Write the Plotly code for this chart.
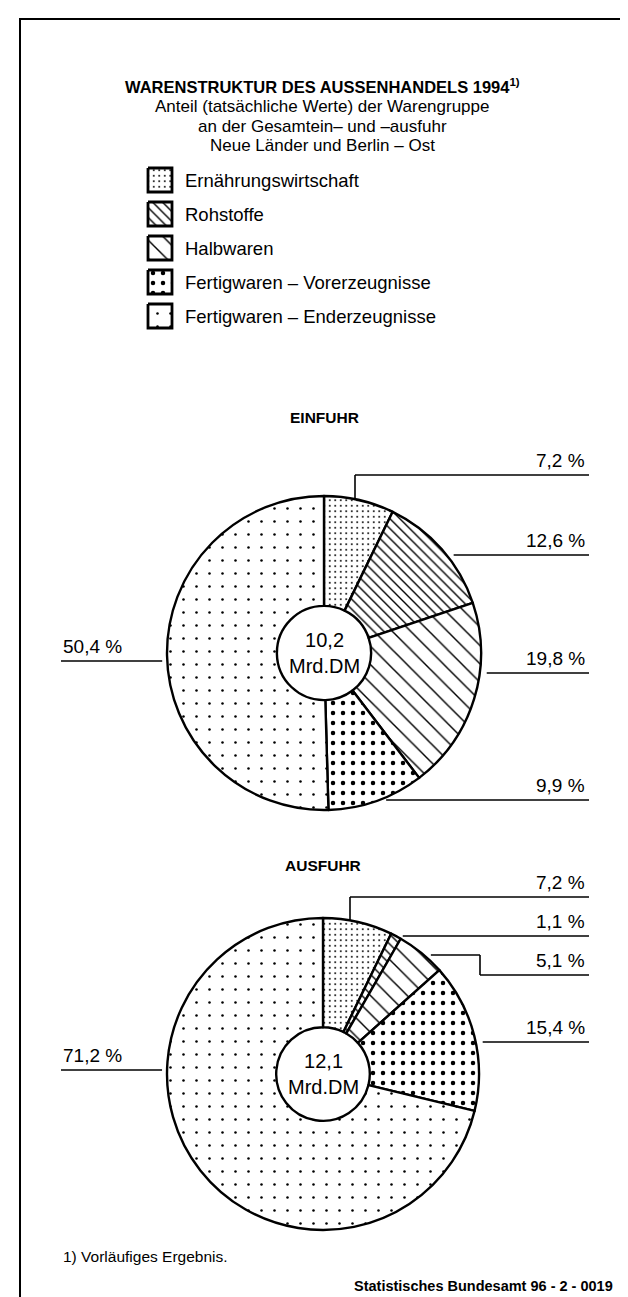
import math
import plotly.graph_objects as go

# ---------------- data ----------------
categories = ["Ernährungswirtschaft", "Rohstoffe", "Halbwaren",
              "Fertigwaren – Vorerzeugnisse", "Fertigwaren – Enderzeugnisse"]
einfuhr_values = [7.2, 12.6, 19.8, 9.9, 50.4]
ausfuhr_values = [7.2, 1.1, 5.1, 15.4, 71.2]
einfuhr_total = "10,2"
ausfuhr_total = "12,1"
unit = "Mrd.DM"

# ---------------- layout / style ----------------
W, H = 628, 1297
FONT = "Liberation Sans, Arial, Helvetica, sans-serif"
pat_shape = [".", "\\", "\\", ".", "."]
pat_size = [5.5, 7, 13, 10, 13]
pat_solid = [0.1, 0.2, 0.11, 0.16, 0.03]

pies = [
    dict(values=einfuhr_values, total=einfuhr_total, title="EINFUHR", title_y=409,
         cx=316, cy=645, r=157,
         right=[dict(i=0, y=467, kind="elbow", x=347), dict(i=1, y=547), dict(i=2, y=665), dict(i=3, y=792)],
         left=dict(i=4, y=653)),
    dict(values=ausfuhr_values, total=ausfuhr_total, title="AUSFUHR", title_y=857,
         cx=315, cy=1066, r=156,
         right=[dict(i=0, y=889, kind="elbow", x=342), dict(i=1, y=928), dict(i=2, y=947, kind="step", x=472, y2=967),
                dict(i=3, y=1034)],
         left=dict(i=4, y=1062)),
]
LINE_END = 581
LABEL_RIGHT = 579
LEFT_X = 53
GAP = 7

def fmt(v):
    return f"{v:.1f}".replace(".", ",") + " %"

fig = go.Figure()
shapes = []
annotations = []

def ann(x, y, text, size=16, bold=False, xanchor="center", yanchor="middle", align="center"):
    if bold:
        text = "<b>" + text + "</b>"
    annotations.append(dict(x=x, y=y, xref="x", yref="y", text=text, showarrow=False,
                            xanchor=xanchor, yanchor=yanchor, align=align,
                            font=dict(family=FONT, size=size, color="black")))

def line(x0, y0, x1, y1, w=1.6):
    shapes.append(dict(type="line", x0=x0, y0=y0, x1=x1, y1=y1, xref="x", yref="y",
                       line=dict(color="black", width=w), layer="above"))

# overlay axis in pixel coordinates (for legend swatches, lines, texts)
fig.update_layout(
    xaxis=dict(domain=[0, 1], range=[0, W], visible=False, fixedrange=True),
    yaxis=dict(domain=[0, 1], range=[H, 0], visible=False, fixedrange=True),
)

# ---------------- pies ----------------
for p in pies:
    cx, cy, r = p["cx"], p["cy"], p["r"]
    fig.add_trace(go.Pie(
        values=p["values"], labels=categories, sort=False, direction="clockwise", rotation=0,
        hole=0.30, textinfo="none", hoverinfo="label+value", showlegend=False,
        domain=dict(x=[(cx - r) / W, (cx + r) / W], y=[1 - (cy + r) / H, 1 - (cy - r) / H]),
        marker=dict(colors=["white"] * 5, line=dict(color="black", width=2.4),
                    pattern=dict(shape=pat_shape, size=pat_size, solidity=pat_solid,
                                 fgcolor="black", bgcolor="white", fillmode="replace")),
    ))
    ann(cx, cy, p["total"] + "<br>" + unit, size=20)
    ann(cx, p["title_y"], p["title"], size=15.5, bold=True)
    vals = p["values"]
    for lab in p["right"]:
        y = lab["y"]
        kind = lab.get("kind", "h")
        if kind == "elbow":
            x = lab["x"]
            ytop = cy - math.sqrt(r * r - (x - cx) ** 2)
            line(x, ytop, x, y)
            line(x, y, LINE_END, y)
            ly = y
        elif kind == "step":
            x0 = cx + math.sqrt(r * r - (y - cy) ** 2) + GAP
            line(x0, y, lab["x"], y)
            line(lab["x"], y, lab["x"], lab["y2"])
            line(lab["x"], lab["y2"], LINE_END, lab["y2"])
            ly = lab["y2"]
        else:
            x0 = cx + math.sqrt(r * r - (y - cy) ** 2) + GAP
            line(x0, y, LINE_END, y)
            ly = y
        ann(LABEL_RIGHT, ly - 2, fmt(vals[lab["i"]]), size=19, xanchor="right", yanchor="bottom")
    lab = p["left"]
    y = lab["y"]
    x1 = cx - math.sqrt(r * r - (y - cy) ** 2) - 5
    line(LEFT_X, y, x1, y)
    ann(LEFT_X, y - 2, fmt(vals[lab["i"]]), size=19, xanchor="left", yanchor="bottom")

# ---------------- legend (custom swatches) ----------------
SW_X, SW_SIZE, SW_Y0, SW_DY = 140, 24, 172, 34
for k, cat in enumerate(categories):
    yc = SW_Y0 + k * SW_DY
    x0, x1 = SW_X, SW_X + SW_SIZE
    y0, y1 = yc - SW_SIZE / 2, yc + SW_SIZE / 2
    fig.add_trace(go.Scatter(
        x=[x0, x1, x1, x0, x0], y=[y0, y0, y1, y1, y0], mode="lines", fill="toself",
        fillcolor="white", line=dict(color="black", width=2.8), showlegend=False, hoverinfo="skip",
        fillpattern=dict(shape=pat_shape[k], size=pat_size[k], solidity=pat_solid[k],
                         fgcolor="black", bgcolor="white", fillmode="replace"),
    ))
    ann(x1 + 11, yc, cat, size=18.5, xanchor="left")

# ---------------- titles & notes ----------------
ann(314, 78, "WARENSTRUKTUR DES AUSSENHANDELS 1994<sup>1)</sup>", size=16.5, bold=True)
ann(314, 98, "Anteil (tatsächliche Werte) der Warengruppe", size=17)
ann(314, 118, "an der Gesamtein– und –ausfuhr", size=17)
ann(314, 137, "Neue Länder und Berlin – Ost", size=17)
ann(53, 1248, "1) Vorläufiges Ergebnis.", size=15.5, xanchor="left")
ann(607, 1278, "Statistisches Bundesamt 96 - 2 - 0019", size=14.5, bold=True, xanchor="right")

# frame
shapes.append(dict(type="rect", x0=12, y0=11, x1=617, y1=H + 10, xref="x", yref="y",
                   line=dict(color="black", width=2), layer="above"))

fig.update_layout(
    width=W, height=H, margin=dict(l=0, r=0, t=0, b=0),
    paper_bgcolor="white", plot_bgcolor="rgba(0,0,0,0)",
    shapes=shapes, annotations=annotations, showlegend=False,
)

fig.write_html("out.html")
